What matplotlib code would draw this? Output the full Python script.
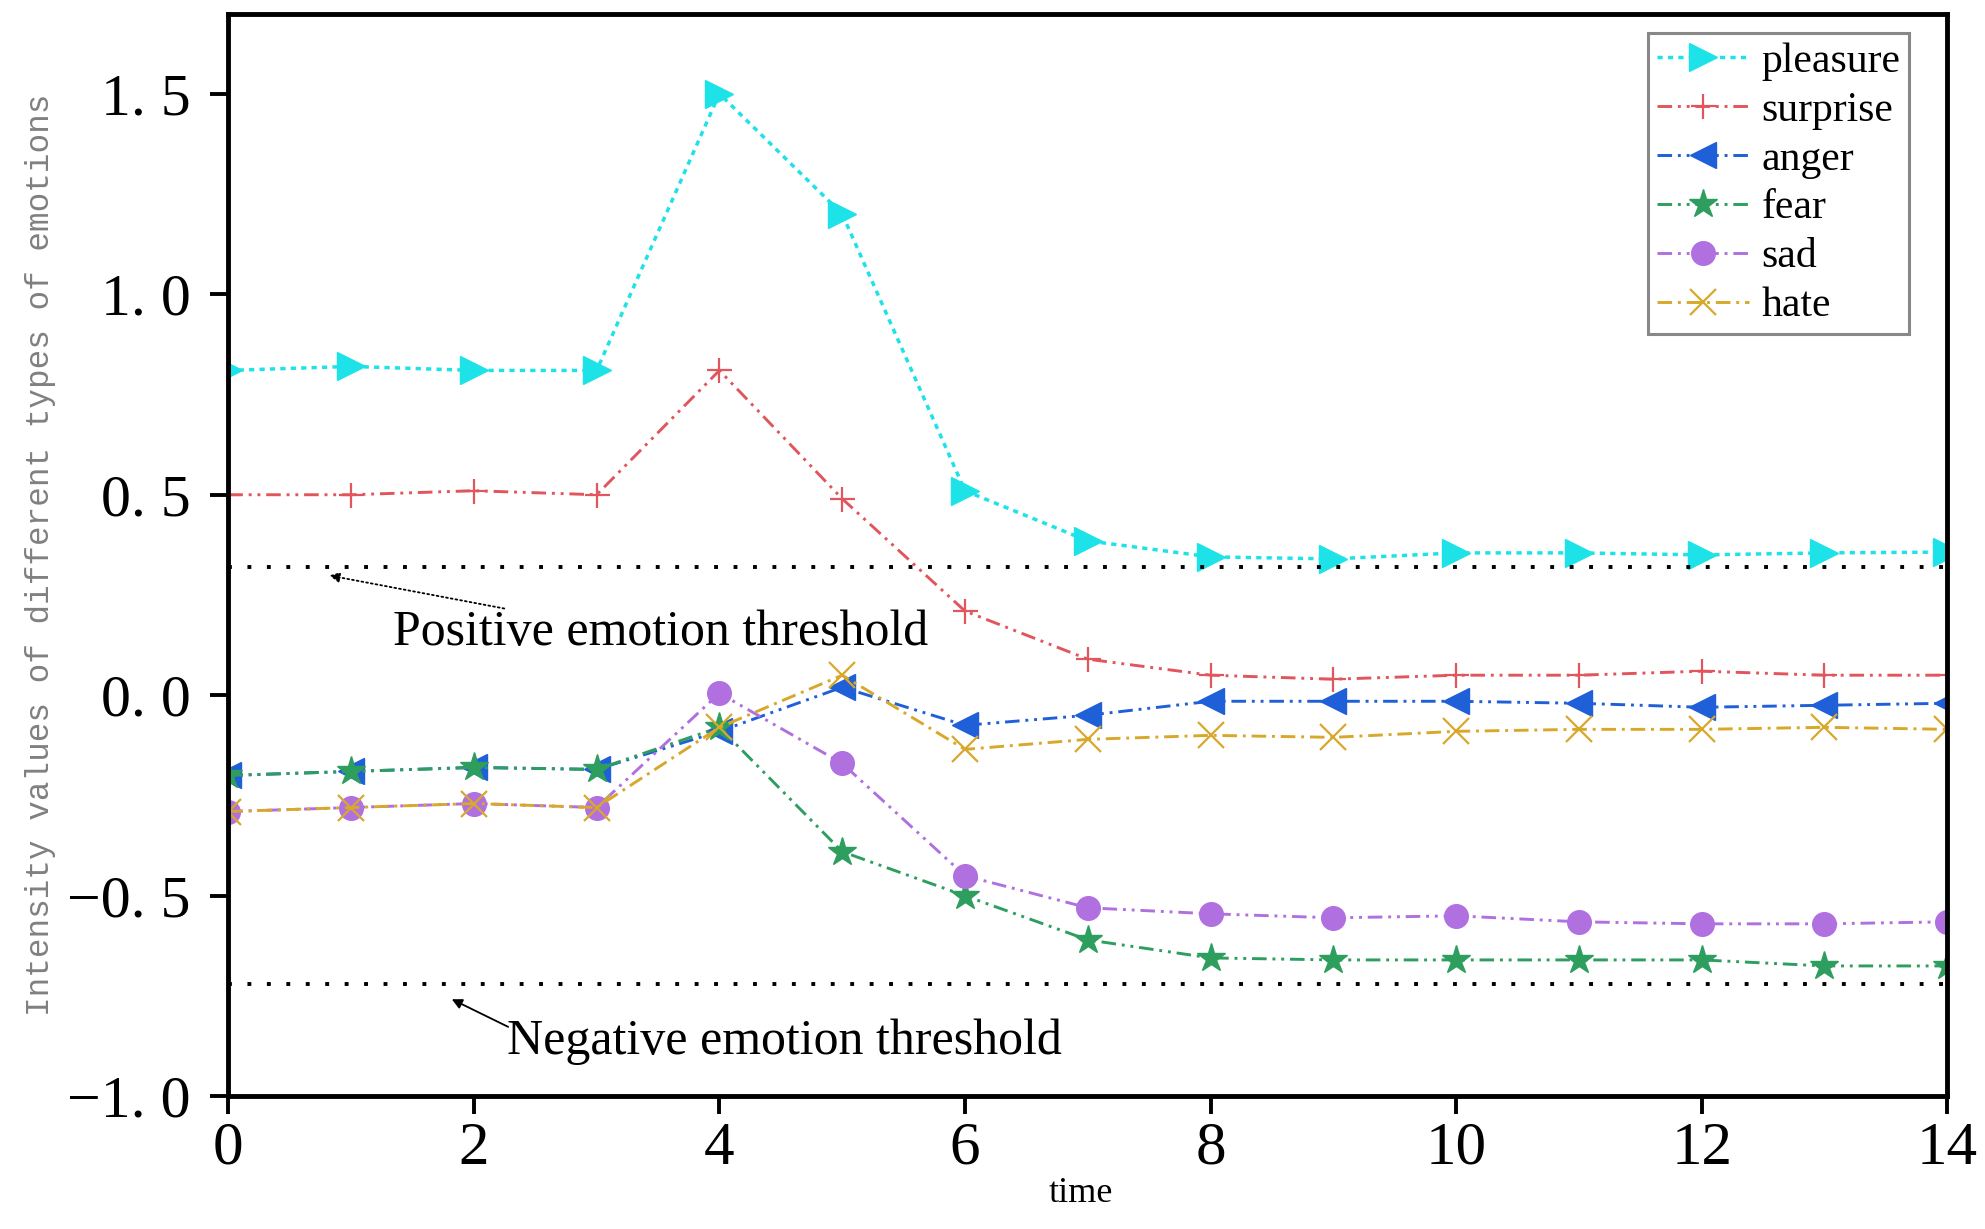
import numpy as np
import matplotlib
matplotlib.use('Agg')
import matplotlib.pyplot as plt

# time steps and intensity of each emotion
time = np.arange(15)
pleasure = [0.81, 0.82, 0.81, 0.81, 1.50, 1.20, 0.51, 0.385, 0.345, 0.34, 0.355, 0.355, 0.35, 0.355, 0.357]
surprise = [0.50, 0.50, 0.51, 0.50, 0.81, 0.49, 0.21, 0.09, 0.05, 0.04, 0.05, 0.05, 0.06, 0.05, 0.05]
anger = [-0.20, -0.19, -0.18, -0.185, -0.09, 0.02, -0.075, -0.05, -0.015, -0.015, -0.015, -0.02, -0.03, -0.025, -0.02]
fear = [-0.20, -0.19, -0.18, -0.185, -0.08, -0.39, -0.50, -0.61, -0.655, -0.66, -0.66, -0.66, -0.66, -0.675, -0.675]
sad = [-0.29, -0.28, -0.27, -0.28, 0.005, -0.17, -0.45, -0.53, -0.545, -0.555, -0.55, -0.565, -0.57, -0.57, -0.565]
hate = [-0.29, -0.28, -0.27, -0.28, -0.08, 0.05, -0.135, -0.11, -0.10, -0.105, -0.09, -0.085, -0.085, -0.08, -0.085]

pos_threshold = 0.32
neg_threshold = -0.72

x_ticks = [0, 2, 4, 6, 8, 10, 12, 14]
y_ticks = [-1.0, -0.5, 0.0, 0.5, 1.0, 1.5]

plt.rcParams['font.family'] = ['Liberation Serif', 'DejaVu Serif']

fig = plt.figure(figsize=(19.85, 12.29), dpi=100)
ax = fig.add_axes([0.115, 0.108, 0.866, 0.881])

dashdotdot = (0, (5, 2, 1, 2, 1, 2))
ax.plot(time, pleasure, color='#1DE3E8', ls=(0, (1.5, 1.5)), lw=2.5,
        marker='>', ms=20, label='pleasure')
ax.plot(time, surprise, color='#E2555C', ls=dashdotdot, lw=2.1,
        marker='+', ms=18, mew=1.6, label='surprise')
ax.plot(time, anger, color='#1F5FD8', ls=dashdotdot, lw=2.1,
        marker='<', ms=19, label='anger')
ax.plot(time, fear, color='#2E9E5E', ls=dashdotdot, lw=2.1,
        marker='*', ms=21, label='fear')
ax.plot(time, sad, color='#B070E0', ls=dashdotdot, lw=2.1,
        marker='o', ms=17, label='sad')
ax.plot(time, hate, color='#D8A82A', ls=(0, (5, 2, 1, 2)), lw=2.1,
        marker='x', ms=19, mew=1.6, label='hate')

# thresholds
ax.axhline(pos_threshold, color='black', ls=(0, (1, 4)), lw=2.8)
ax.axhline(neg_threshold, color='black', ls=(0, (1, 4)), lw=2.8)

ax.annotate('', xy=(0.8, 0.30), xytext=(2.27, 0.215),
            arrowprops=dict(arrowstyle='-|>', color='black', lw=1.3,
                            linestyle=':', mutation_scale=15))
ax.text(1.34, 0.155, 'Positive emotion threshold', fontsize=36, ha='left', va='center')
ax.annotate('', xy=(1.8, -0.755), xytext=(2.3, -0.83),
            arrowprops=dict(arrowstyle='-|>', color='black', lw=1.3,
                            mutation_scale=15))
ax.text(2.27, -0.863, 'Negative emotion threshold', fontsize=36, ha='left', va='center')

ax.set_xlim(0, 14)
ax.set_ylim(-1.0, 1.7)
ax.set_xticks(x_ticks)
ax.set_xticklabels([str(t) for t in x_ticks], fontsize=44)
ax.set_yticks(y_ticks)
ax.set_yticklabels([('%.1f' % v).replace('.', '. ').replace('-', '\u2212') for v in y_ticks],
                   fontsize=43)
ax.tick_params(axis='both', direction='out', length=13, width=2.8)
ax.tick_params(axis='x', pad=5)
ax.tick_params(axis='y', pad=14)
for s in ax.spines.values():
    s.set_linewidth(3.5)

ax.set_xlabel('time', fontsize=26)
ax.xaxis.set_label_coords(0.496, -0.075)
ax.set_ylabel('Intensity values of different types of emotions',
              fontsize=23.5, color='#808080', family='Liberation Mono')
ax.yaxis.set_label_coords(-0.1, 0.5)

leg = ax.legend(loc='upper right', bbox_to_anchor=(0.978, 0.982), borderaxespad=0,
                fontsize=30, handlelength=2.2, handletextpad=0.3, labelspacing=0.25,
                borderpad=0.22, fancybox=False, framealpha=1, edgecolor='#888888')
leg.get_frame().set_linewidth(2.2)

fig.savefig('out.png', dpi=100)
